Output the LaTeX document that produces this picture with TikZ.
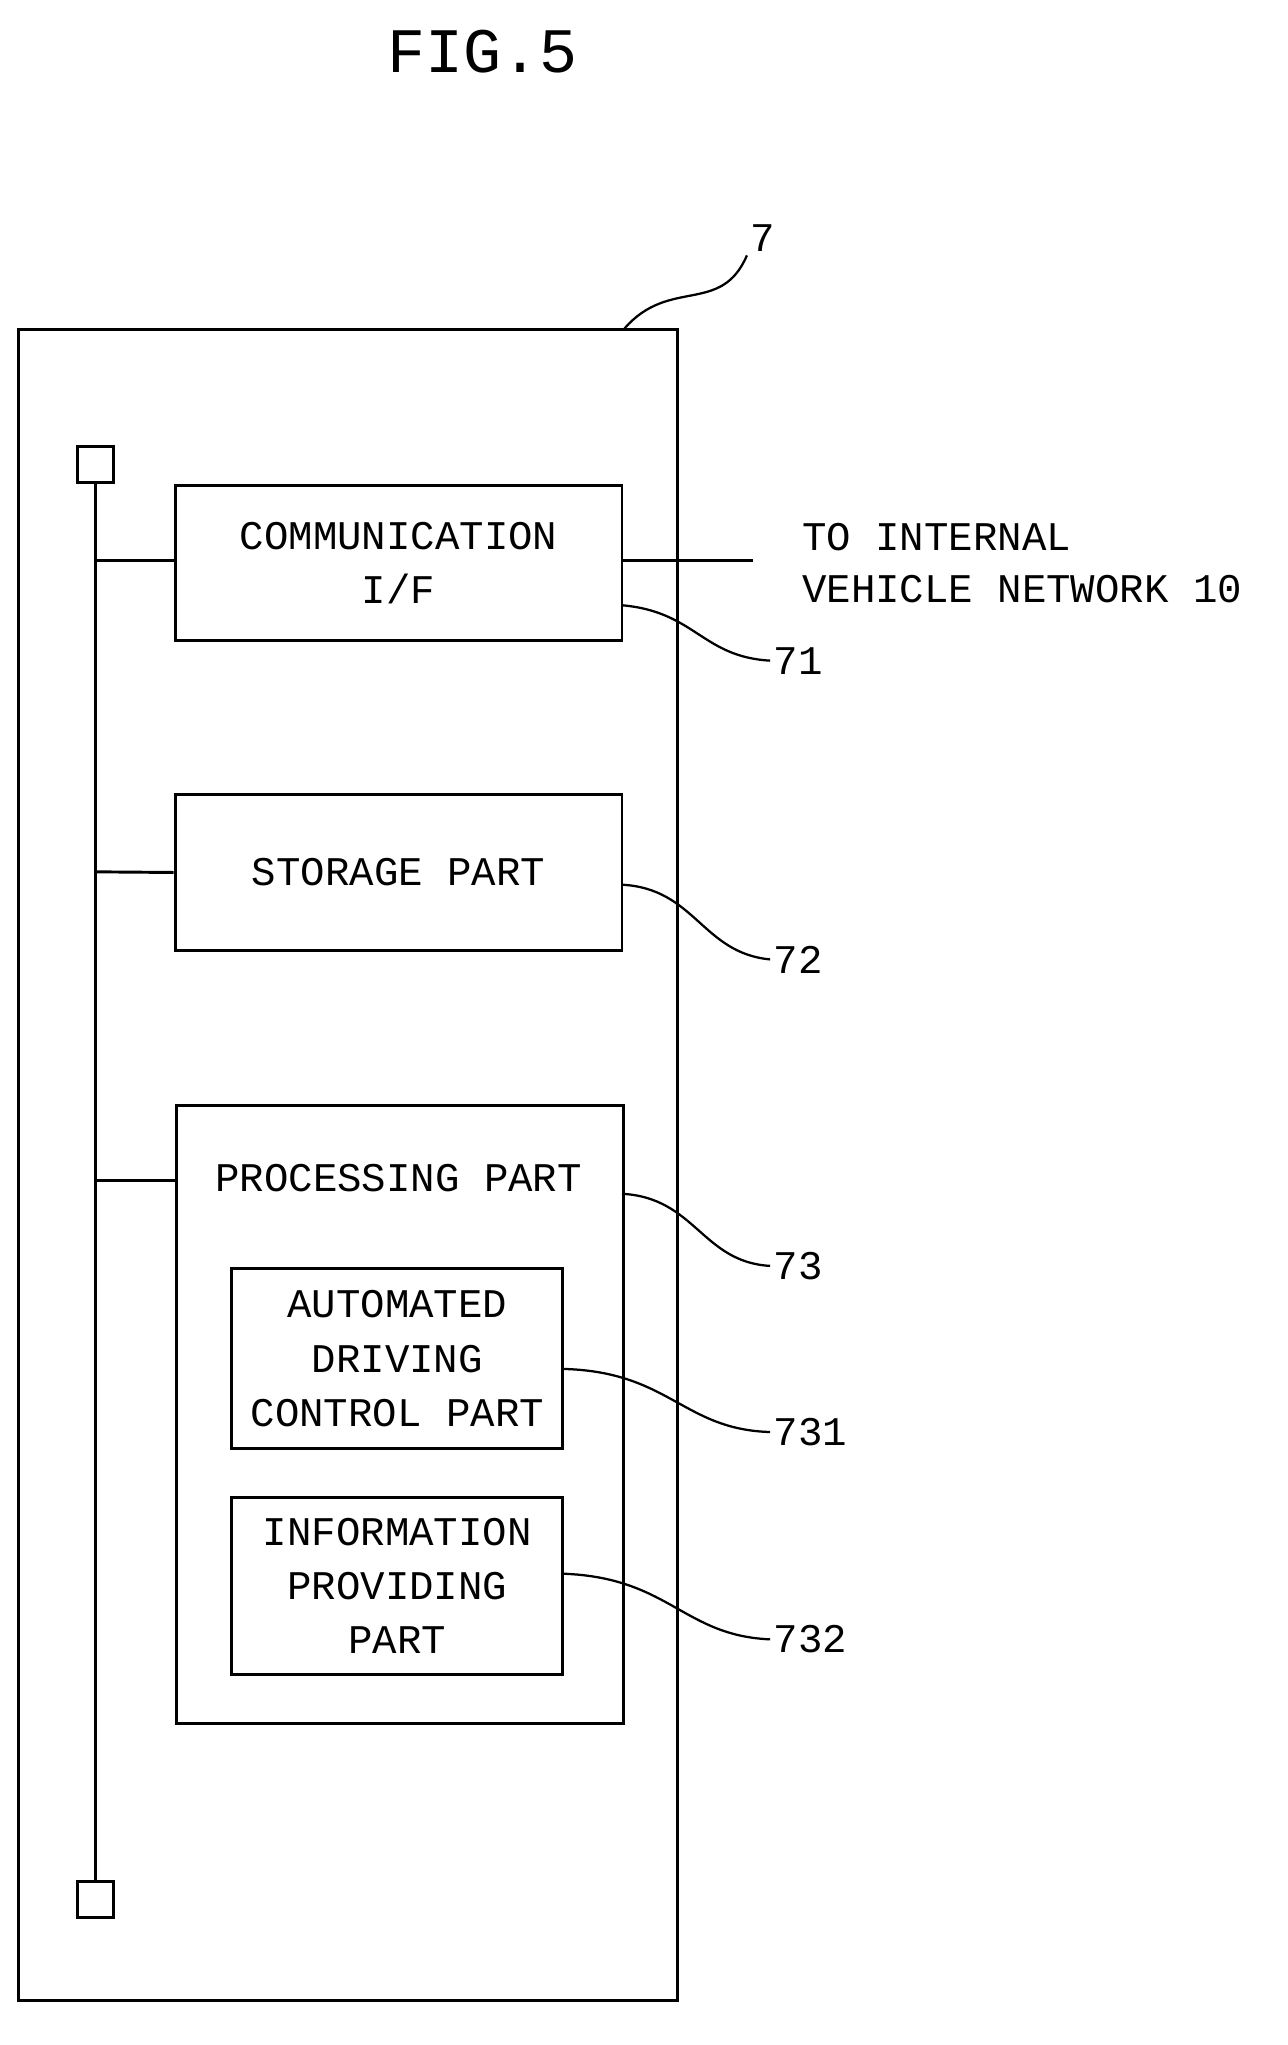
\documentclass[tikz,border=0pt]{standalone}
\usepackage{fontspec}
\setmainfont{Liberation Mono}
\usetikzlibrary{positioning}
\begin{document}
\begin{tikzpicture}[x=0.02cm,y=-0.02cm,line width=1.3pt,
	blockbox/.style={draw,inner sep=0pt,font=\fontsize{18}{24}\selectfont,align=center},
	reflabel/.style={font=\fontsize{18}{20}\selectfont,anchor=west,inner sep=1pt},
	leader/.style={line width=1pt}]
	\useasboundingbox (0,0) rectangle (1000,1588);
	\node[font=\fontsize{28}{30}\selectfont] (title) at (375,40) {FIG.5};
	% housing
	\node[draw,minimum width=512*0.02cm,minimum height=1297*0.02cm,anchor=north west,inner sep=0pt] (ecu) at (13,255) {};
	\node[reflabel] (l7) at (580,185) {7};
	\draw[leader] (485,255) .. controls (520,215) and (560,245) .. (l7.south west);
	% bus
	\node[draw,minimum size=28*0.02cm,inner sep=0pt] (btop) at (74,361) {};
	\node[draw,minimum size=28*0.02cm,inner sep=0pt] (bbot) at (74,1475) {};
	\draw (btop) -- (bbot);
	% blocks
	\node[blockbox,minimum width=347*0.02cm,minimum height=120*0.02cm] (comm) at (309.5,437) {COMMUNICATION\\I/F};
	\node[blockbox,minimum width=347*0.02cm,minimum height=121*0.02cm] (store) at (309.5,677.5) {STORAGE PART};
	\node[draw,minimum width=347*0.02cm,minimum height=480*0.02cm,anchor=north west,inner sep=0pt] (proc) at (136,857) {};
	\node[font=\fontsize{18}{24}\selectfont] (proctext) at (309.5,915) {PROCESSING PART};
	\node[blockbox,minimum width=257*0.02cm,minimum height=140*0.02cm] (adc) at (308.5,1055) {AUTOMATED\\DRIVING\\CONTROL PART};
	\node[blockbox,minimum width=257*0.02cm,minimum height=137*0.02cm] (info) at (308.5,1231.5) {INFORMATION\\PROVIDING\\PART};
	% bus taps
	\draw (74,435) -- (comm.west |- 0,435);
	\draw (74,677) -- (store.west);
	\draw (74,917) -- (proc.west |- 0,917);
	% external link
	\coordinate (ext) at (585,435);
	\draw (comm.east |- 0,435) -- (ext);
	\node[reflabel,align=left,font=\fontsize{18}{23}\selectfont] (net) at (620,437) {TO INTERNAL\\VEHICLE NETWORK 10};
	% reference labels
	\node[reflabel] (l71) at (598,513) {71};
	\node[reflabel] (l72) at (598,745) {72};
	\node[reflabel] (l73) at (598,983) {73};
	\node[reflabel] (l731) at (598,1112) {731};
	\node[reflabel] (l732) at (598,1273) {732};
	\draw[leader] (483,470) .. controls (540,475) and (545,510) .. (l71.west);
	\draw[leader] (483,687) .. controls (540,690) and (545,740) .. (l72.west);
	\draw[leader] (483,927) .. controls (540,930) and (545,980) .. (l73.west);
	\draw[leader] (437,1063) .. controls (520,1065) and (530,1110) .. (l731.west);
	\draw[leader] (437,1222) .. controls (520,1225) and (530,1270) .. (l732.west);
\end{tikzpicture}
\end{document}
